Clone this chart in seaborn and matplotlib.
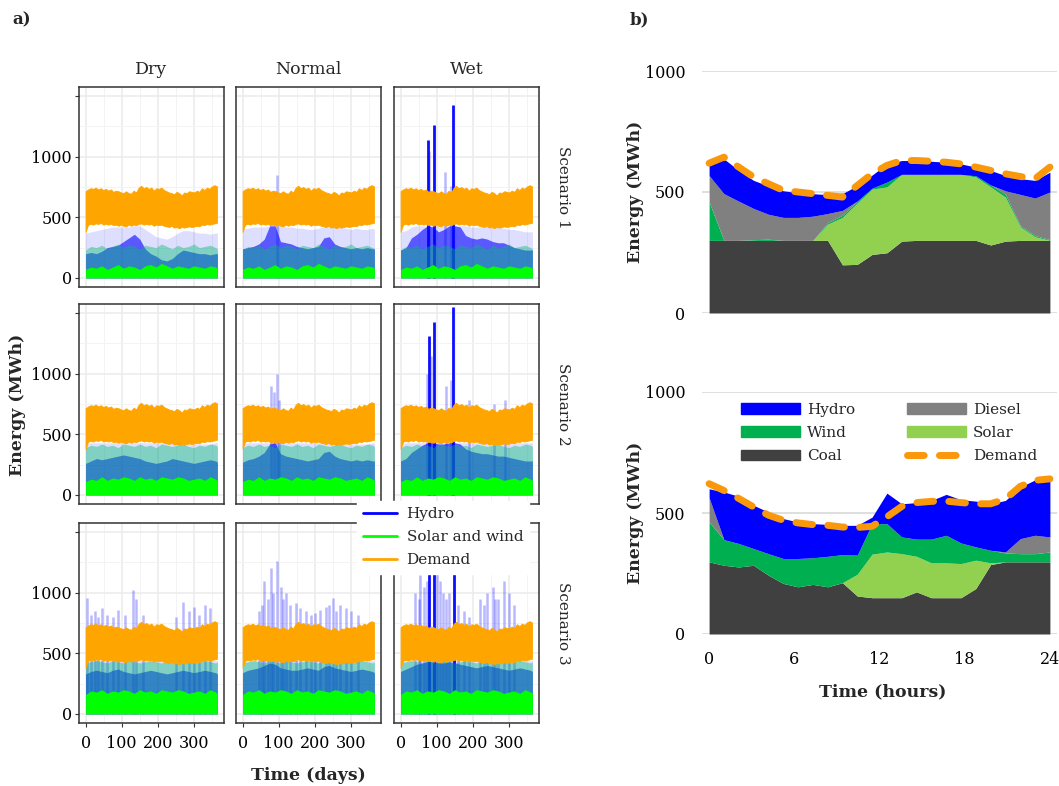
import numpy as np
import pandas as pd
import matplotlib
matplotlib.use("Agg")
import matplotlib.pyplot as plt
from matplotlib.lines import Line2D
from matplotlib.patches import Patch
import seaborn as sns

# ======================= Panel a data =======================
climates = ["Dry", "Normal", "Wet"]
scenarios = ["Scenario 1", "Scenario 2", "Scenario 3"]

# coarse day grid for hydro / solar+wind envelopes
days = [0, 15, 30, 45, 60, 75, 90, 105, 120, 135, 150, 165, 180, 195, 210,
        225, 240, 255, 270, 285, 300, 315, 330, 345, 360, 365]
# weekly demand envelope (same for all panels)
demand_days = list(range(0, 365, 7))
demand_high = [715, 730, 740, 735, 745, 730, 740, 725, 735, 720, 730, 710, 720,
               715, 705, 700, 715, 700, 695, 720, 705, 745, 760, 740, 750, 735,
               745, 720, 740, 735, 745, 725, 715, 705, 700, 690, 710, 700, 680,
               705, 700, 715, 710, 705, 720, 710, 740, 725, 745, 735, 755, 765, 755]
demand_low = [380, 440, 445, 440, 450, 445, 455, 440, 445, 440, 445, 435, 440,
              430, 440, 430, 425, 440, 430, 440, 435, 445, 450, 440, 445, 440,
              445, 430, 440, 435, 440, 430, 425, 420, 430, 415, 420, 410, 420,
              415, 420, 425, 420, 425, 430, 425, 440, 435, 445, 440, 445, 450, 455]

# solar + wind envelopes per scenario
green_max_s1 = [230, 260, 250, 270, 240, 260, 280, 250, 270, 260, 240, 270, 260,
                250, 280, 260, 240, 270, 250, 260, 280, 250, 260, 270, 250, 240]
green_den_s1 = [70, 90, 80, 100, 70, 90, 110, 80, 100, 90, 70, 100, 110,
                90, 120, 100, 80, 100, 90, 80, 100, 90, 80, 100, 90, 80]
green_max_s2 = [390, 410, 400, 420, 400, 410, 390, 420, 410, 400, 420, 400, 410,
                390, 420, 410, 400, 410, 420, 400, 390, 410, 400, 420, 410, 400]
green_den_s2 = [110, 130, 120, 150, 120, 140, 130, 150, 140, 120, 150, 130, 140,
                120, 150, 140, 130, 150, 140, 120, 130, 140, 120, 150, 130, 120]
green_max_s3 = [420, 430, 440, 430, 420, 440, 430, 420, 440, 430, 420, 430, 440,
                430, 420, 440, 430, 420, 430, 440, 420, 430, 440, 430, 420, 430]
green_den_s3 = [160, 190, 180, 200, 170, 190, 180, 200, 190, 170, 200, 180, 190,
                170, 200, 190, 180, 200, 190, 170, 180, 190, 170, 200, 180, 170]

# hydro envelopes per scenario x climate
hydro_max_s1_dry = [370, 380, 390, 400, 410, 420, 420, 420, 420, 430, 430, 400, 370,
                    340, 330, 320, 340, 370, 390, 390, 380, 370, 370, 360, 370, 370]
hydro_den_s1_dry = [200, 210, 200, 220, 250, 260, 270, 300, 330, 360, 320, 240, 200,
                    180, 150, 140, 160, 200, 230, 220, 210, 200, 200, 190, 200, 200]
hydro_max_s1_nor = [400, 410, 420, 420, 420, 430, 430, 430, 420, 420, 410, 410, 400,
                    400, 410, 420, 430, 430, 420, 410, 400, 410, 400, 400, 410, 400]
hydro_den_s1_nor = [240, 250, 260, 280, 320, 430, 430, 300, 290, 280, 260, 250, 240,
                    250, 260, 330, 340, 280, 260, 250, 240, 250, 240, 250, 240, 240]
hydro_max_s1_wet = [380, 390, 420, 430, 430, 430, 430, 430, 430, 430, 430, 430, 430,
                    420, 420, 420, 430, 420, 420, 410, 400, 400, 390, 380, 380, 380]
hydro_den_s1_wet = [230, 250, 330, 360, 400, 430, 420, 380, 400, 430, 430, 420, 350,
                    330, 320, 330, 320, 300, 290, 290, 270, 250, 240, 230, 230, 230]

hydro_max_s2_dry = [420, 430, 430, 430, 430, 430, 430, 430, 430, 430, 430, 430, 430,
                    430, 430, 430, 430, 430, 420, 420, 420, 420, 420, 420, 430, 430]
hydro_den_s2_dry = [260, 280, 300, 290, 300, 310, 320, 330, 320, 310, 300, 280, 270,
                    260, 270, 280, 300, 290, 280, 270, 260, 270, 280, 290, 280, 270]
hydro_max_s2_nor = [420, 430, 430, 430, 430, 430, 430, 430, 430, 430, 430, 430, 430,
                    430, 430, 430, 430, 430, 430, 420, 420, 420, 420, 420, 430, 430]
hydro_den_s2_nor = [270, 290, 300, 320, 350, 420, 430, 340, 320, 310, 300, 290, 280,
                    290, 300, 350, 360, 320, 300, 290, 280, 290, 280, 290, 280, 280]
hydro_max_s2_wet = [420, 430, 430, 430, 430, 430, 430, 430, 430, 430, 430, 430, 430,
                    430, 430, 430, 430, 430, 430, 430, 430, 430, 430, 430, 430, 430]
hydro_den_s2_wet = [280, 300, 350, 380, 410, 430, 430, 420, 420, 430, 430, 420, 380,
                    360, 350, 340, 340, 330, 320, 320, 310, 300, 290, 280, 280, 280]

hydro_max_s3_dry = [430, 440, 440, 440, 440, 440, 440, 440, 440, 440, 440, 440, 440,
                    440, 440, 440, 440, 440, 440, 440, 440, 440, 440, 440, 440, 440]
hydro_den_s3_dry = [330, 350, 360, 350, 340, 360, 370, 350, 340, 330, 340, 350, 360,
                    350, 340, 330, 340, 350, 360, 350, 340, 350, 360, 350, 340, 330]
hydro_max_s3_nor = [430, 440, 440, 440, 440, 440, 440, 440, 440, 440, 440, 440, 440,
                    440, 440, 440, 440, 440, 440, 440, 440, 440, 440, 440, 440, 440]
hydro_den_s3_nor = [340, 360, 370, 380, 400, 420, 410, 380, 370, 360, 360, 370, 380,
                    370, 360, 390, 400, 380, 370, 360, 350, 360, 370, 360, 350, 340]
hydro_max_s3_wet = [430, 440, 440, 440, 440, 440, 440, 440, 440, 440, 440, 440, 440,
                    440, 440, 440, 440, 440, 440, 440, 440, 440, 440, 440, 440, 440]
hydro_den_s3_wet = [350, 370, 390, 410, 420, 430, 430, 420, 420, 430, 420, 410, 400,
                    390, 380, 390, 400, 390, 380, 370, 360, 370, 380, 370, 360, 350]

# hydro spikes (day, MWh): strong and faint
spk_strong_days_s1_wet = [76, 93, 146]
spk_strong_vals_s1_wet = [1135, 1260, 1425]
spk_faint_days_s1_wet = [80, 124, 140]
spk_faint_vals_s1_wet = [1050, 875, 760]
spk_faint_days_s1_nor = [94]
spk_faint_vals_s1_nor = [846]

spk_faint_days_s2_nor = [80, 88, 94, 100]
spk_faint_vals_s2_nor = [900, 850, 1000, 780]
spk_strong_days_s2_wet = [78, 93, 146]
spk_strong_vals_s2_wet = [1310, 1430, 1550]
spk_faint_days_s2_wet = [72, 85, 125, 140, 190, 260, 290]
spk_faint_vals_s2_wet = [1000, 1150, 900, 950, 780, 750, 780]

spk_faint_days_s3_dry = [5, 15, 25, 35, 45, 60, 75, 90, 110, 130, 140, 160, 250, 270,
                         285, 300, 315, 330, 345]
spk_faint_vals_s3_dry = [960, 820, 850, 800, 870, 820, 800, 860, 820, 1020, 950, 820,
                         800, 920, 850, 880, 820, 900, 870]
spk_faint_days_s3_nor = [45, 55, 60, 70, 79, 85, 94, 105, 112, 119, 130, 148, 160, 175,
                         190, 200, 215, 230, 240, 250, 260, 270, 285, 300, 320]
spk_faint_vals_s3_nor = [850, 900, 1100, 950, 1200, 1000, 1260, 1050, 950, 1000, 900,
                         915, 870, 850, 820, 830, 860, 880, 900, 960, 850, 900, 870, 850, 820]
spk_strong_days_s3_wet = [80, 92, 148]
spk_strong_vals_s3_wet = [1550, 1550, 1550]
spk_faint_days_s3_wet = [40, 50, 55, 65, 72, 100, 110, 118, 125, 135, 160, 175, 190,
                         220, 230, 240, 255, 262, 270, 285, 300, 315]
spk_faint_vals_s3_wet = [1000, 950, 1150, 1050, 1100, 1200, 1100, 1000, 950, 1000, 900,
                         850, 800, 950, 900, 1000, 1050, 950, 950, 1100, 1000, 900]

# ======================= Panel b data =======================
hour_ticks = [0, 6, 12, 18, 24]
# 24 hourly values per series, stacked Coal, Solar, Wind, Diesel, Hydro
coal_d1 = [300, 300, 300, 300, 300, 300, 300, 300, 300, 199, 201, 242, 249, 297, 300,
           300, 300, 300, 300, 281, 297, 300, 300, 300]
solar_d1 = [0, 0, 0, 0, 0, 0, 0, 0, 67, 196, 254, 270, 272, 276, 273, 273, 273, 273,
            262, 240, 182, 56, 15, 0]
wind_d1 = [159, 0, 0, 3, 5, 0, 0, 0, 6, 9, 8, 4, 20, 0, 0, 0, 0, 0, 5, 8, 12, 5, 5, 3]
diesel_d1 = [109, 193, 162, 129, 103, 95, 95, 100, 38, 20, 0, 0, 0, 0, 0, 0, 0, 0, 0,
             0, 14, 129, 155, 197]
hydro_d1 = [42, 144, 127, 116, 117, 110, 102, 93, 78, 69, 64, 54, 75, 57, 57, 54, 50,
            43, 36, 60, 63, 65, 73, 82]
demand_d1 = [619, 644, 603, 562, 534, 507, 500, 493, 486, 479, 527, 575, 610, 630, 630,
             627, 623, 616, 603, 589, 575, 564, 555, 603]

coal_d2 = [298, 284, 277, 284, 243, 209, 195, 205, 195, 212, 157, 150, 150, 150, 174,
           150, 150, 150, 188, 287, 298, 298, 298, 298]
solar_d2 = [0, 0, 0, 0, 0, 0, 0, 0, 0, 0, 90, 180, 189, 182, 147, 144, 144, 141, 117,
            7, 0, 0, 0, 0]
wind_d2 = [165, 106, 97, 69, 89, 103, 117, 110, 126, 116, 79, 126, 117, 69, 71, 98, 114,
           85, 55, 52, 37, 34, 34, 41]
diesel_d2 = [100, 0, 0, 0, 0, 0, 0, 0, 0, 0, 0, 0, 0, 0, 0, 0, 0, 0, 0, 0, 4, 62, 76, 62]
hydro_d2 = [37, 197, 195, 179, 172, 165, 151, 141, 132, 121, 123, 27, 126, 137, 151,
            160, 169, 179, 189, 192, 213, 213, 229, 236]
demand_d2 = [621, 593, 560, 525, 491, 470, 459, 452, 449, 442, 440, 445, 484, 527, 543,
             548, 549, 543, 538, 538, 558, 610, 635, 641]

# ======================= assemble =======================
hydro_max = {(0, 0): hydro_max_s1_dry, (0, 1): hydro_max_s1_nor, (0, 2): hydro_max_s1_wet,
             (1, 0): hydro_max_s2_dry, (1, 1): hydro_max_s2_nor, (1, 2): hydro_max_s2_wet,
             (2, 0): hydro_max_s3_dry, (2, 1): hydro_max_s3_nor, (2, 2): hydro_max_s3_wet}
hydro_den = {(0, 0): hydro_den_s1_dry, (0, 1): hydro_den_s1_nor, (0, 2): hydro_den_s1_wet,
             (1, 0): hydro_den_s2_dry, (1, 1): hydro_den_s2_nor, (1, 2): hydro_den_s2_wet,
             (2, 0): hydro_den_s3_dry, (2, 1): hydro_den_s3_nor, (2, 2): hydro_den_s3_wet}
green_max = [green_max_s1, green_max_s2, green_max_s3]
green_den = [green_den_s1, green_den_s2, green_den_s3]
spikes_strong = {(0, 2): (spk_strong_days_s1_wet, spk_strong_vals_s1_wet),
                 (1, 2): (spk_strong_days_s2_wet, spk_strong_vals_s2_wet),
                 (2, 2): (spk_strong_days_s3_wet, spk_strong_vals_s3_wet)}
spikes_faint = {(0, 1): (spk_faint_days_s1_nor, spk_faint_vals_s1_nor),
                (0, 2): (spk_faint_days_s1_wet, spk_faint_vals_s1_wet),
                (1, 1): (spk_faint_days_s2_nor, spk_faint_vals_s2_nor),
                (1, 2): (spk_faint_days_s2_wet, spk_faint_vals_s2_wet),
                (2, 0): (spk_faint_days_s3_dry, spk_faint_vals_s3_dry),
                (2, 1): (spk_faint_days_s3_nor, spk_faint_vals_s3_nor),
                (2, 2): (spk_faint_days_s3_wet, spk_faint_vals_s3_wet)}

# ======================= style =======================
sns.set_theme(style="white")
plt.rcParams["font.family"] = ["DejaVu Serif"]
plt.rcParams["axes.unicode_minus"] = False

W, H = 1059, 786
fig = plt.figure(figsize=(W / 100, H / 100), dpi=100)
fig.patch.set_facecolor("white")


def ax_px(left, top, w, h):
    return fig.add_axes([left / W, 1 - (top + h) / H, w / W, h / H])


def ftext(x, y, s, **kw):
    fig.text(x / W, 1 - y / H, s, **kw)


BLUE = "#0000FF"
LIME = "#00FF00"
TEAL = "#00C070"
ORANGE_A = "#FFA500"

col_left = [79, 236, 394]
row_top = [87, 304, 523]
PW, PH = 145, 200

for r in range(3):
    for c in range(3):
        ax = ax_px(col_left[c], row_top[r], PW, PH)
        ax.set_xlim(-18.25, 383.25)
        ax.set_ylim(-75, 1575)
        ax.set_axisbelow(True)
        ax.set_xticks([0, 100, 200, 300])
        ax.set_xticks([50, 150, 250, 350], minor=True)
        ax.set_yticks([0, 500, 1000, 1500])
        ax.set_yticklabels(["0", "500", "1000", ""])
        ax.set_yticks([250, 750, 1250], minor=True)
        ax.grid(which="major", color="#EBEBEB", lw=1.1)
        ax.grid(which="minor", color="#F3F3F3", lw=0.7)
        for sp in ax.spines.values():
            sp.set_color("#333333")
            sp.set_linewidth(1.1)
        ax.tick_params(which="major", direction="out", length=3, width=0.8,
                       color="#333333", labelsize=11.5, pad=2, labelcolor="black")
        ax.tick_params(axis="x", pad=6)
        ax.tick_params(which="minor", length=0)
        if c > 0:
            ax.tick_params(left=False, labelleft=False)
        else:
            ax.tick_params(left=True)
        if r < 2:
            ax.tick_params(bottom=False, labelbottom=False)
        else:
            ax.tick_params(bottom=True)

        # hydro
        ax.fill_between(days, 0, hydro_max[(r, c)], color=BLUE, alpha=0.13, lw=0, zorder=1)
        ax.fill_between(days, 0, hydro_den[(r, c)], color=BLUE, alpha=0.6, lw=0, zorder=1)
        if (r, c) in spikes_faint:
            d, v = spikes_faint[(r, c)]
            ax.vlines(d, 0, v, color=BLUE, alpha=0.28, lw=1.8, zorder=1.5)
        if (r, c) in spikes_strong:
            d, v = spikes_strong[(r, c)]
            ax.vlines(d, 0, v, color=BLUE, alpha=0.95, lw=2.0, zorder=1.5)
        # solar and wind
        ax.fill_between(days, 0, green_max[r], color=TEAL, alpha=0.42, lw=0, zorder=2)
        ax.fill_between(days, 0, green_den[r], color=LIME, alpha=1.0, lw=0, zorder=2)
        # demand
        ax.fill_between(demand_days, demand_low, demand_high, color=ORANGE_A, lw=0.6,
                        edgecolor=ORANGE_A, zorder=3)

# strips and labels for panel a
for c, name in enumerate(climates):
    ftext(col_left[c] + PW / 2, 69, name, ha="center", va="center", fontsize=12.5)
for r, name in enumerate(scenarios):
    ftext(563, row_top[r] + PH / 2, name, ha="center", va="center", fontsize=11,
          rotation=270)
ftext(18, 405, "Energy (MWh)", ha="center", va="center", fontsize=12.5,
      fontweight="bold", rotation=90)
ftext(308, 775, "Time (days)", ha="center", va="center", fontsize=12.5, fontweight="bold")
ftext(12, 20, "a)", ha="left", va="center", fontsize=12, fontweight="bold")
ftext(630, 20, "b)", ha="left", va="center", fontsize=12, fontweight="bold")

leg_a = fig.legend(
    handles=[Line2D([], [], color=BLUE, lw=2), Line2D([], [], color=LIME, lw=2),
             Line2D([], [], color=ORANGE_A, lw=2)],
    labels=["Hydro", "Solar and wind", "Demand"],
    loc="upper left", bbox_to_anchor=(357 / W, 1 - 501 / H), frameon=True,
    fancybox=False, edgecolor="white", facecolor="white", framealpha=1, fontsize=11,
    handlelength=2.2, handletextpad=0.65, labelspacing=0.6, borderpad=0.4,
    borderaxespad=0)

# ======================= Panel b =======================
hours = np.linspace(0, 24, 24)
C_COAL, C_SOLAR, C_WIND, C_DIESEL, C_HYDRO = "#404040", "#92D050", "#00B050", "#808080", "#0000FF"
C_DEM = "#F9980A"
dash = (0, (2.4, 2.2))

b_tops = [71, 392]
series_b = [(coal_d1, solar_d1, wind_d1, diesel_d1, hydro_d1, demand_d1),
            (coal_d2, solar_d2, wind_d2, diesel_d2, hydro_d2, demand_d2)]
for k, (co, so, wi, di, hy, de) in enumerate(series_b):
    ax = ax_px(702, b_tops[k], 355, 242)
    ax.set_xlim(-0.5, 24.5)
    ax.set_ylim(0, 1000)
    for sp in ax.spines.values():
        sp.set_visible(False)
    ax.set_yticks([0, 500, 1000])
    ax.grid(axis="y", color="#D9D9D9", lw=1.2)
    ax.grid(axis="x", visible=False)
    ax.set_axisbelow(True)
    ax.stackplot(hours, co, so, wi, di, hy,
                 colors=[C_COAL, C_SOLAR, C_WIND, C_DIESEL, C_HYDRO], lw=0)
    df = pd.DataFrame({"hour": hours, "demand": de})
    sns.lineplot(data=df, x="hour", y="demand", ax=ax, color=C_DEM, lw=5,
                 linestyle=dash, dash_capstyle="round", clip_on=False)
    ax.set_xlabel("")
    ax.set_ylabel("")
    ax.tick_params(axis="y", length=0, labelsize=11.5, pad=12, labelcolor="black")
    if k == 0:
        ax.tick_params(axis="x", bottom=False, labelbottom=False)
    else:
        ax.set_xticks(hour_ticks)
        ax.tick_params(axis="x", length=0, labelsize=11.5, pad=12, labelcolor="black")
    ftext(635, b_tops[k] + 121, "Energy (MWh)", ha="center", va="center",
          fontsize=12.5, fontweight="bold", rotation=90)

ftext(883, 692, "Time (hours)", ha="center", va="center", fontsize=12.5, fontweight="bold")

hb = [Patch(color=C_HYDRO), Patch(color=C_WIND), Patch(color=C_COAL),
      Patch(color=C_DIESEL), Patch(color=C_SOLAR),
      Line2D([], [], color=C_DEM, lw=5, linestyle=dash, dash_capstyle="round")]
lb = ["Hydro", "Wind", "Coal", "Diesel", "Solar", "Demand"]
fig.legend(handles=hb, labels=lb, ncol=2, loc="upper left",
           bbox_to_anchor=(741 / W, 1 - 403 / H), frameon=False, fontsize=11,
           handlelength=3.86, handleheight=0.7, handletextpad=0.45,
           labelspacing=0.6, columnspacing=3.4, borderpad=0, borderaxespad=0)

fig.savefig("out.png", dpi=100, facecolor="white")
